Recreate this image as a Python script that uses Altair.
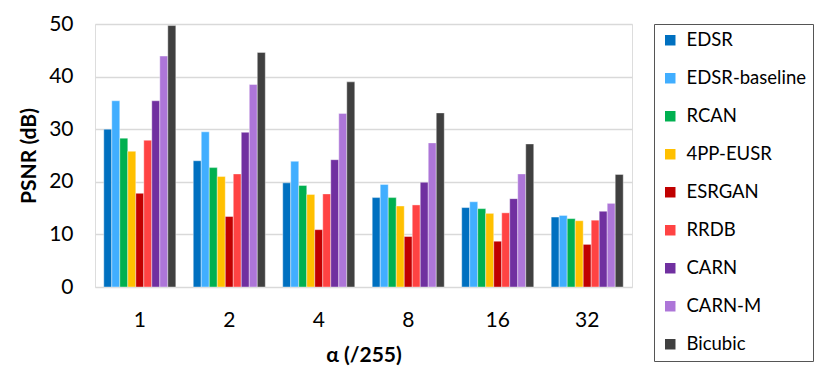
import altair as alt
import pandas as pd

alphas = ["1", "2", "4", "8", "16", "32"]
models = ["EDSR", "EDSR-baseline", "RCAN", "4PP-EUSR", "ESRGAN", "RRDB", "CARN", "CARN-M", "Bicubic"]
colors = ["#0070C0", "#41AEFF", "#00B050", "#FFC000", "#C00000", "#FF4343", "#7030A0", "#AD76D8", "#404040"]

edsr          = [30.0, 24.0, 19.8, 17.0, 15.1, 13.3]
edsr_baseline = [35.4, 29.5, 23.9, 19.5, 16.2, 13.6]
rcan          = [28.3, 22.7, 19.3, 17.0, 14.9, 13.0]
pp_eusr       = [25.8, 21.0, 17.6, 15.4, 14.0, 12.6]
esrgan        = [17.8, 13.4, 10.9, 9.6, 8.7, 8.1]
rrdb          = [27.9, 21.5, 17.7, 15.6, 14.1, 12.7]
carn          = [35.4, 29.4, 24.2, 19.9, 16.8, 14.4]
carn_m        = [43.9, 38.5, 33.0, 27.4, 21.5, 15.9]
bicubic       = [49.7, 44.6, 39.0, 33.1, 27.2, 21.4]

series = [edsr, edsr_baseline, rcan, pp_eusr, esrgan, rrdb, carn, carn_m, bicubic]
rows = []
for m, vals in zip(models, series):
    for a, v in zip(alphas, vals):
        rows.append({"alpha": a, "model": m, "psnr": v})
df = pd.DataFrame(rows)

FONT = "Lato"

chart = alt.Chart(df).mark_bar(stroke="white", strokeWidth=0.4).encode(
    x=alt.X("alpha:N", sort=alphas,
            scale=alt.Scale(paddingInner=0.195, paddingOuter=0.098),
            axis=alt.Axis(title="α (/255)", labelAngle=0, domain=False, ticks=False, grid=False,
                          labelPadding=22, labelFontSize=21, labelColor="#000000",
                          titleFontSize=21, titleFontWeight="bold", titleColor="#000000",
                          titleY=68, titleBaseline="middle")),
    xOffset=alt.XOffset("model:N", sort=models, scale=alt.Scale(paddingInner=0, paddingOuter=0)),
    y=alt.Y("psnr:Q", scale=alt.Scale(domain=[0, 50], nice=False),
            axis=alt.Axis(title="PSNR (dB)", values=[0, 10, 20, 30, 40, 50], domain=False, ticks=False,
                          labelPadding=22, labelFontSize=21, labelColor="#000000",
                          gridColor="#D9D9D9", gridWidth=1.5,
                          titleFontSize=21, titleFontWeight="bold", titleColor="#000000",
                          titleX=-66, titleY=131.5, titleBaseline="middle", titleAngle=-90)),
    color=alt.Color("model:N", sort=models,
                    scale=alt.Scale(domain=models, range=colors),
                    legend=alt.Legend(title=None, orient="none", legendX=559, legendY=0,
                                      symbolType="square", symbolSize=110, symbolStrokeWidth=0,
                                      labelFontSize=18.5, labelColor="#000000", labelOffset=7,
                                      rowPadding=19, padding=7, strokeColor="#555555",
                                      labelLimit=300)),
).properties(
    width=537, height=263,
    autosize=alt.AutoSizeParams(type="none"),
    padding={"left": 87, "top": 16, "right": 191, "bottom": 80},
).configure_view(strokeWidth=0, strokeOpacity=0).configure(font=FONT)

chart.save("out.html", embed_options={"renderer": "svg", "actions": False})
